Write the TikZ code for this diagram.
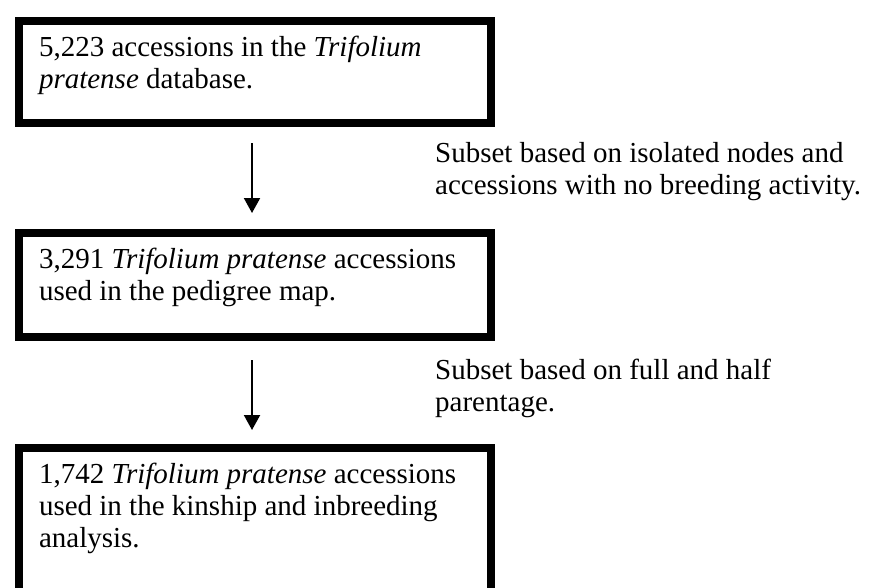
\documentclass[tikz,border=0pt]{standalone}
\usepackage{fontspec}
\setmainfont{Liberation Serif}
\usetikzlibrary{arrows.meta}

\tikzset{
  flowbox/.style={draw=black, line width=8pt, anchor=north west, inner xsep=20pt, inner ysep=15pt,
    font=\fontsize{29pt}{32pt}\selectfont},
  subsetnote/.style={anchor=north west, inner sep=0pt, align=left,
    font=\fontsize{29pt}{32pt}\selectfont},
  flowarrow/.style={line width=2pt, -{Triangle[width=16pt,length=15pt]}}
}

\begin{document}
\begin{tikzpicture}[x=1pt,y=-1pt]
\useasboundingbox (0,0) rectangle (869,587);
% boxes
\node[flowbox] (db) at (15,17) {\parbox[t][72pt][t]{432pt}{5,223 accessions in the \textit{Trifolium}\\ \textit{pratense} database.}};
\node[flowbox] (pedigree) at (15,229) {\parbox[t][74pt][t]{432pt}{3,291 \textit{Trifolium pratense} accessions\\ used in the pedigree map.}};
\node[flowbox] (kinship) at (15,444) {\parbox[t][150pt][t]{432pt}{1,742 \textit{Trifolium pratense} accessions\\ used in the kinship and inbreeding\\ analysis.}};
% arrows
\draw[flowarrow, shorten <=16pt, shorten >=16pt] ([xshift=-3pt]db.south) -- ([xshift=-3pt]pedigree.north);
\draw[flowarrow, shorten <=19pt, shorten >=14pt] ([xshift=-3pt]pedigree.south) -- ([xshift=-3pt]kinship.north);
% notes
\node[subsetnote] (isolated) at (435,142) {Subset based on isolated nodes and\\ accessions with no breeding activity.};
\node[subsetnote] (parentage) at (435,359) {Subset based on full and half\\ parentage.};
\end{tikzpicture}
\end{document}
